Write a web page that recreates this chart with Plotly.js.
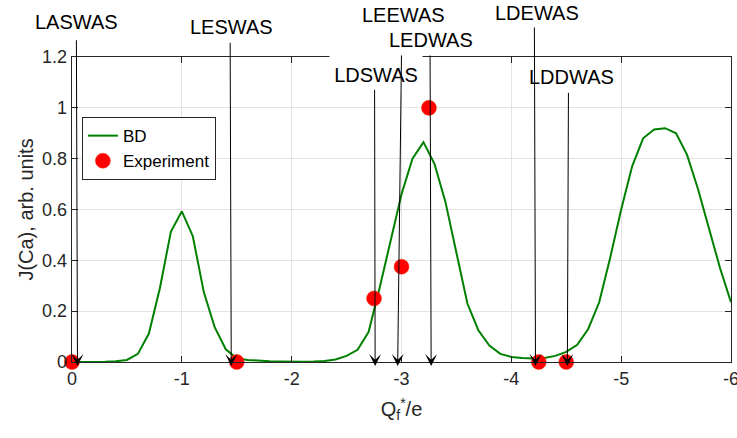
<!DOCTYPE html>
<html>
<head>
<meta charset="utf-8">
<script src="https://cdn.plot.ly/plotly-3.0.1.min.js"></script>
<style>html,body{margin:0;padding:0;background:#fff;}#chart{width:737px;height:438px;}</style>
</head>
<body>
<div id="chart"></div>
<script>
// BD model curve
const bdX = [0, -0.1, -0.2, -0.3, -0.4, -0.5, -0.6, -0.7, -0.8, -0.9,
  -1.0, -1.1, -1.2, -1.3, -1.4, -1.5, -1.6, -1.7, -1.8, -1.9,
  -2.0, -2.1, -2.2, -2.3, -2.4, -2.5, -2.6, -2.7, -2.8, -2.9,
  -3.0, -3.1, -3.2, -3.3, -3.4, -3.5, -3.6, -3.7, -3.8, -3.9,
  -4.0, -4.1, -4.2, -4.3, -4.4, -4.5, -4.6, -4.7, -4.8, -4.9,
  -5.0, -5.1, -5.2, -5.3, -5.4, -5.5, -5.6, -5.7, -5.8, -5.9, -6.0];
const bdY = [0, 0, 0, 0.001, 0.003, 0.008, 0.032, 0.112, 0.29, 0.512,
  0.593, 0.495, 0.275, 0.136, 0.05, 0.015, 0.008, 0.005, 0.003, 0.002,
  0.001, 0.001, 0.002, 0.004, 0.01, 0.024, 0.048, 0.118, 0.29, 0.47,
  0.66, 0.80, 0.865, 0.78, 0.63, 0.43, 0.23, 0.125, 0.065, 0.032,
  0.02, 0.016, 0.014, 0.016, 0.024, 0.04, 0.068, 0.13, 0.235, 0.41,
  0.60, 0.77, 0.88, 0.915, 0.92, 0.90, 0.815, 0.68, 0.52, 0.37, 0.235];

// Experiment
const expX = [0, -1.5, -2.75, -3.0, -3.25, -4.25, -4.5];
const expY = [0, 0, 0.25, 0.375, 1.0, 0, 0];

// Marked states
const labelNames = ['LASWAS', 'LESWAS', 'LDSWAS', 'LEEWAS', 'LEDWAS', 'LDEWAS', 'LDDWAS'];
const arrowTipX  = [-0.05, -1.45, -2.76, -2.965, -3.27, -4.22, -4.51];
const arrowTailX = [-0.04, -1.44, -2.755, -3.0, -3.26, -4.21, -4.52];
const arrowTailY = [1.27, 1.26, 1.075, 1.21, 1.21, 1.32, 1.063];
const labelX = [-0.045, -1.45, -2.77, -3.02, -3.27, -4.23, -4.55];
const labelY = [1.115, 1.098, 0.941, 1.138, 1.056, 1.144, 0.934]; // paper fractions

const FONT = 'Liberation Sans, Arial, Helvetica, sans-serif';
const AX = '#262626';
const pxPerUnit = 305 / 1.2;

const annotations = [];
// texts first (background box for LDSWAS sits below arrows)
labelNames.forEach((name, i) => {
  const a = {
    text: name, x: labelX[i], xref: 'x', y: labelY[i], yref: 'paper',
    showarrow: false, xanchor: 'center', yanchor: 'middle',
    font: {family: FONT, size: 20, color: '#000'}
  };
  if (name === 'LDSWAS') {
    a.bgcolor = '#ffffff';
    a.width = 90;
    a.height = 36;
  }
  annotations.push(a);
});
labelNames.forEach((name, i) => {
  annotations.push({
    text: ' ', x: arrowTipX[i], xref: 'x', y: 0, yref: 'y', yshift: -4,
    ax: arrowTailX[i], axref: 'x',
    ay: -arrowTailY[i] * pxPerUnit - 4, ayref: 'pixel',
    showarrow: true, arrowhead: 3, arrowsize: 2, arrowwidth: 1, arrowcolor: '#000',
    font: {size: 1}, borderpad: 0
  });
});

const traces = [
  {x: bdX, y: bdY, type: 'scatter', mode: 'lines', name: 'BD',
   line: {color: '#008000', width: 2}, cliponaxis: true},
  {x: expX, y: expY, type: 'scatter', mode: 'markers', name: 'Experiment',
   marker: {color: '#ff0000', size: 15, line: {color: '#f2330d', width: 0.5}}, cliponaxis: false}
];

const layout = {
  width: 737, height: 438,
  margin: {l: 72, r: 6, t: 57, b: 76},
  paper_bgcolor: '#fff', plot_bgcolor: '#fff',
  font: {family: FONT, size: 18, color: AX},
  showlegend: true,
  legend: {x: 0.015, y: 0.803, xanchor: 'left', yanchor: 'top',
    bgcolor: '#fff', bordercolor: AX, borderwidth: 1,
    font: {family: FONT, size: 17, color: '#000'}, tracegroupgap: 0},
  xaxis: {
    range: [0, -6], tickvals: [0, -1, -2, -3, -4, -5, -6],
    ticktext: ['0', '-1', '-2', '-3', '-4', '-5', '-6'],
    ticklabeloverflow: 'allow',
    showgrid: true, gridcolor: '#e3e3e3', gridwidth: 1,
    zeroline: false, showline: true, linecolor: AX, linewidth: 1.3, mirror: 'ticks',
    ticks: 'inside', ticklen: 6, tickwidth: 1.3, tickcolor: AX,
    tickfont: {family: FONT, size: 18, color: AX},
    title: {text: 'Q<sub>f</sub><sup>*</sup>/e', font: {family: FONT, size: 20, color: AX}, standoff: 14}
  },
  yaxis: {
    range: [0, 1.2], tickvals: [0, 0.2, 0.4, 0.6, 0.8, 1, 1.2],
    ticktext: ['0', '0.2', '0.4', '0.6', '0.8', '1', '1.2'],
    ticklabeloverflow: 'allow',
    showgrid: true, gridcolor: '#e3e3e3', gridwidth: 1,
    zeroline: false, showline: true, linecolor: AX, linewidth: 1.3, mirror: 'ticks',
    ticks: 'inside', ticklen: 6, tickwidth: 1.3, tickcolor: AX,
    tickfont: {family: FONT, size: 18, color: AX},
    title: {text: 'J(Ca), arb. units', font: {family: FONT, size: 20, color: AX}, standoff: 3}
  },
  annotations: annotations
};

Plotly.newPlot('chart', traces, layout, {displayModeBar: false, staticPlot: true});
</script>
</body>
</html>
